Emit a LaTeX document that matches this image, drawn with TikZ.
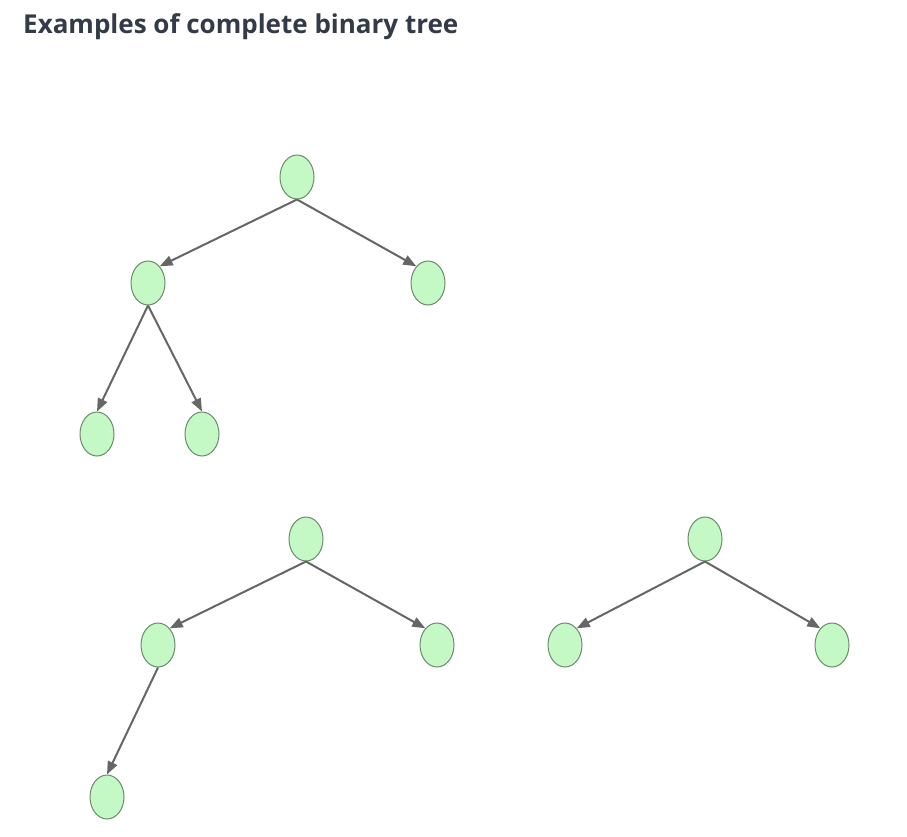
\documentclass[tikz,border=0pt]{standalone}
\usepackage{fontspec}
\setmainfont{Open Sans}
\usetikzlibrary{arrows.meta,shapes.geometric}
\definecolor{nodefill}{HTML}{C4F8C4}
\definecolor{nodeline}{HTML}{6E8A6E}
\definecolor{edgecol}{HTML}{666666}
\definecolor{titlecol}{HTML}{333A48}
\begin{document}
\begin{tikzpicture}[x=1pt,y=-1pt,
  tnode/.style={ellipse,draw=nodeline,fill=nodefill,line width=1pt,minimum width=34pt,minimum height=44pt,inner sep=0pt},
  edge/.style={draw=edgecol,line width=2pt,-{Triangle[length=13pt,width=10pt]}}]
\useasboundingbox (0,0) rectangle (907,836);
\fill[white] (0,0) rectangle (907,836);
\node[anchor=base west,inner sep=0pt,text=titlecol,font=\bfseries\fontsize{26}{30}\selectfont] (title) at (23,33) {Examples of complete binary tree};
% tree 1
\node[tnode] (a1) at (297,177) {};
\node[tnode] (b1) at (148,283) {};
\node[tnode] (c1) at (428,283) {};
\node[tnode] (d1) at (97,434) {};
\node[tnode] (e1) at (202,434) {};
\draw[edge] (a1.south) -- (b1.55);
\draw[edge] (a1.south) -- (c1.125);
\draw[edge] (b1.south) -- (d1.north);
\draw[edge] (b1.south) -- (e1.north);
% tree 2
\node[tnode] (a2) at (306,539) {};
\node[tnode] (b2) at (158,645) {};
\node[tnode] (c2) at (437,645) {};
\node[tnode] (d2) at (107,797) {};
\draw[edge] (a2.south) -- (b2.55);
\draw[edge] (a2.south) -- (c2.125);
\draw[edge] (b2.south) -- (d2.north);
% tree 3
\node[tnode] (a3) at (705,539) {};
\node[tnode] (b3) at (565,645) {};
\node[tnode] (c3) at (832,645) {};
\draw[edge] (a3.south) -- (b3.55);
\draw[edge] (a3.south) -- (c3.125);
\end{tikzpicture}
\end{document}
